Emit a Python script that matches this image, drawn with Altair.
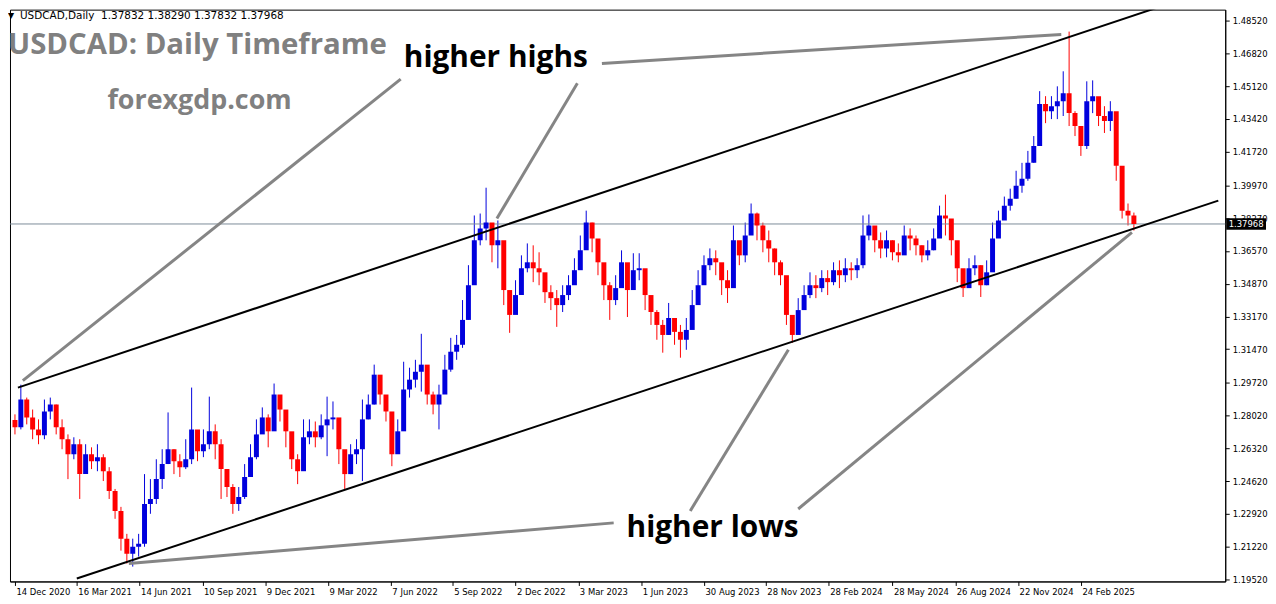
import altair as alt
import pandas as pd
import numpy as np

# ---------------- data ----------------
first_open = 1.2780
closes = [
    1.2742, 1.2886, 1.2793, 1.2731, 1.2700, 1.2824, 1.2860, 1.2742, 1.2680, 1.2602,
    1.2654, 1.2499, 1.2602, 1.2566, 1.2587, 1.2514, 1.2411, 1.2308, 1.2164, 1.2086,
    1.2122, 1.2138, 1.2344, 1.2370, 1.2473, 1.2551, 1.2628, 1.2566, 1.2535, 1.2576,
    1.2731, 1.2618, 1.2654, 1.2721, 1.2654, 1.2525, 1.2432, 1.2344, 1.2380, 1.2484,
    1.2587, 1.2705, 1.2793, 1.2721, 1.2912, 1.2834, 1.2721, 1.2576, 1.2514, 1.2690,
    1.2721, 1.2690, 1.2752, 1.2783, 1.2793, 1.2628, 1.2499, 1.2602, 1.2628, 1.2783,
    1.2860, 1.3015, 1.2912, 1.2824, 1.2602, 1.2721, 1.2938, 1.2989, 1.3030, 1.3067,
    1.2912, 1.2860, 1.2912, 1.3041, 1.3134, 1.3170, 1.3299, 1.3479, 1.3712, 1.3774,
    1.3804, 1.3686, 1.3712, 1.3454, 1.3325, 1.3428, 1.3567, 1.3598, 1.3567, 1.3546,
    1.3443, 1.3412, 1.3376, 1.3428, 1.3479, 1.3557, 1.3660, 1.3804, 1.3722, 1.3598,
    1.3479, 1.3402, 1.3464, 1.3598, 1.3454, 1.3557, 1.3567, 1.3428, 1.3340, 1.3273,
    1.3221, 1.3309, 1.3237, 1.3196, 1.3247, 1.3376, 1.3479, 1.3583, 1.3619, 1.3598,
    1.3505, 1.3464, 1.3712, 1.3634, 1.3737, 1.3851, 1.3789, 1.3712, 1.3670, 1.3598,
    1.3531, 1.3325, 1.3221, 1.3350, 1.3428, 1.3479, 1.3464, 1.3516, 1.3495, 1.3557,
    1.3531, 1.3567, 1.3557, 1.3583, 1.3737, 1.3789, 1.3712, 1.3670, 1.3712, 1.3650,
    1.3634, 1.3737, 1.3722, 1.3686, 1.3634, 1.3660, 1.3722, 1.3841, 1.3825, 1.3712,
    1.3567, 1.3464, 1.3567, 1.3583, 1.3479, 1.3546, 1.3722, 1.3815, 1.3892, 1.3928,
    1.3995, 1.4032, 1.4114, 1.4202, 1.4419, 1.4382, 1.4408, 1.4434, 1.4475, 1.4372,
    1.4305, 1.4202, 1.4434, 1.4460, 1.4357, 1.4331, 1.4382, 1.4099, 1.3866, 1.3841,
    1.37968,
]
highs = [
    1.2809, 1.2963, 1.2896, 1.2834, 1.2783, 1.2886, 1.2896, 1.2860, 1.2783, 1.2705,
    1.2690, 1.2680, 1.2654, 1.2638, 1.2654, 1.2602, 1.2535, 1.2422, 1.2329, 1.2189,
    1.2164, 1.2189, 1.2499, 1.2473, 1.2576, 1.2628, 1.2819, 1.2628, 1.2602, 1.2680,
    1.2948, 1.2705, 1.2731, 1.2901, 1.2757, 1.2680, 1.2525, 1.2447, 1.2432, 1.2551,
    1.2654, 1.2783, 1.2845, 1.2809, 1.2969, 1.2896, 1.2809, 1.2680, 1.2602, 1.2783,
    1.2783, 1.2772, 1.2809, 1.2901, 1.2876, 1.2731, 1.2602, 1.2654, 1.2680, 1.2886,
    1.2912, 1.3067, 1.2989, 1.2886, 1.2731, 1.2783, 1.3082, 1.3051, 1.3092, 1.3227,
    1.3015, 1.2927, 1.2963, 1.3118, 1.3206, 1.3221, 1.3402, 1.3583, 1.3841, 1.3851,
    1.3985, 1.3789, 1.3815, 1.3583, 1.3428, 1.3505, 1.3634, 1.3696, 1.3686, 1.3650,
    1.3516, 1.3479, 1.3454, 1.3479, 1.3531, 1.3619, 1.3737, 1.3866, 1.3804, 1.3712,
    1.3583, 1.3495, 1.3531, 1.3660, 1.3567, 1.3645, 1.3645, 1.3505, 1.3412, 1.3350,
    1.3299, 1.3387, 1.3299, 1.3273, 1.3309, 1.3454, 1.3557, 1.3634, 1.3670, 1.3660,
    1.3583, 1.3557, 1.3789, 1.3701, 1.3804, 1.3903, 1.3856, 1.3804, 1.3763, 1.3670,
    1.3608, 1.3479, 1.3299, 1.3412, 1.3479, 1.3546, 1.3531, 1.3557, 1.3557, 1.3598,
    1.3608, 1.3619, 1.3598, 1.3619, 1.3841, 1.3846, 1.3774, 1.3753, 1.3763, 1.3712,
    1.3696, 1.3789, 1.3774, 1.3737, 1.3686, 1.3712, 1.3774, 1.3892, 1.3949, 1.3789,
    1.3660, 1.3546, 1.3619, 1.3634, 1.3583, 1.3608, 1.3804, 1.3866, 1.3939, 1.3980,
    1.4073, 1.4114, 1.4176, 1.4253, 1.4486, 1.4460, 1.4460, 1.4511, 1.4589, 1.4795,
    1.4382, 1.4305, 1.4537, 1.4542, 1.4444, 1.4408, 1.4434, 1.4290, 1.4021, 1.3903,
    1.3856,
]
lows = [
    1.2705, 1.2731, 1.2757, 1.2680, 1.2654, 1.2680, 1.2783, 1.2705, 1.2628, 1.2473,
    1.2576, 1.2370, 1.2525, 1.2525, 1.2514, 1.2463, 1.2370, 1.2267, 1.2102, 1.2035,
    1.2019, 1.2071, 1.2122, 1.2293, 1.2344, 1.2422, 1.2551, 1.2499, 1.2484, 1.2525,
    1.2551, 1.2566, 1.2587, 1.2628, 1.2576, 1.2370, 1.2380, 1.2293, 1.2308, 1.2370,
    1.2499, 1.2576, 1.2721, 1.2638, 1.2757, 1.2772, 1.2638, 1.2525, 1.2447, 1.2525,
    1.2654, 1.2638, 1.2680, 1.2592, 1.2731, 1.2551, 1.2422, 1.2499, 1.2551, 1.2463,
    1.2783, 1.2860, 1.2860, 1.2772, 1.2540, 1.2654, 1.2860, 1.2896, 1.2948, 1.2927,
    1.2860, 1.2809, 1.2731, 1.2938, 1.3030, 1.3092, 1.3154, 1.3299, 1.3531, 1.3686,
    1.3712, 1.3598, 1.3567, 1.3376, 1.3232, 1.3350, 1.3479, 1.3546, 1.3495, 1.3479,
    1.3387, 1.3350, 1.3263, 1.3340, 1.3402, 1.3495, 1.3583, 1.3722, 1.3650, 1.3531,
    1.3402, 1.3299, 1.3376, 1.3516, 1.3314, 1.3479, 1.3505, 1.3350, 1.3273, 1.3196,
    1.3129, 1.3221, 1.3170, 1.3103, 1.3144, 1.3273, 1.3402, 1.3505, 1.3557, 1.3531,
    1.3428, 1.3387, 1.3598, 1.3583, 1.3598, 1.3763, 1.3712, 1.3650, 1.3598, 1.3531,
    1.3479, 1.3273, 1.3180, 1.3273, 1.3361, 1.3412, 1.3412, 1.3443, 1.3428, 1.3479,
    1.3464, 1.3495, 1.3505, 1.3516, 1.3567, 1.3712, 1.3650, 1.3619, 1.3624, 1.3608,
    1.3598, 1.3670, 1.3660, 1.3634, 1.3598, 1.3608, 1.3660, 1.3763, 1.3737, 1.3634,
    1.3495, 1.3418, 1.3505, 1.3531, 1.3418, 1.3479, 1.3660, 1.3753, 1.3825, 1.3866,
    1.3928, 1.3959, 1.4021, 1.4114, 1.4228, 1.4320, 1.4341, 1.4341, 1.4357, 1.4305,
    1.4253, 1.4150, 1.4186, 1.4372, 1.4305, 1.4269, 1.4279, 1.4021, 1.3825, 1.3789,
    1.3763,
]
first_bar = 2      # trading-day index of the first candle
bar_step = 6       # trading days per candle

tick_days = [2, 65, 129, 193, 257, 321, 385, 448, 512, 576, 640, 704, 767, 831, 896, 960, 1024, 1088]
tick_labels = ["14 Dec 2020", "16 Mar 2021", "14 Jun 2021", "10 Sep 2021", "9 Dec 2021",
               "9 Mar 2022", "7 Jun 2022", "5 Sep 2022", "2 Dec 2022", "3 Mar 2023",
               "1 Jun 2023", "30 Aug 2023", "28 Nov 2023", "28 Feb 2024", "28 May 2024",
               "26 Aug 2024", "22 Nov 2024", "24 Feb 2025"]
price_ticks = [1.48520, 1.46820, 1.45120, 1.43420, 1.41720, 1.39970, 1.38270, 1.36570,
               1.34870, 1.33170, 1.31470, 1.29720, 1.28020, 1.26320, 1.24620, 1.22920,
               1.21220, 1.19520]
last_price = 1.37968

# trend lines (day index, price)
line_kind = ["channel", "channel", "pointer", "pointer", "pointer", "pointer", "pointer", "pointer"]
line_day1 = [5, 65, 10, 493, 600, 118, 690, 800]
line_p1 = [1.2948, 1.1957, 1.2984, 1.3825, 1.4630, 1.2035, 1.2308, 1.2318]
line_day2 = [1175, 1228, 395, 575, 1068, 612, 790, 1140]
line_p2 = [1.4935, 1.3918, 1.4548, 1.4527, 1.4780, 1.2246, 1.3144, 1.3753]

# ---------------- build tables ----------------
n = len(closes)
opens = [first_open] + closes[:-1]
candles = pd.DataFrame({
    "day": [first_bar + bar_step * i for i in range(n)],
    "open": opens, "close": closes, "high": highs, "low": lows,
})
candles["dir"] = np.where(candles["close"] >= candles["open"], "up", "down")

lines = pd.DataFrame({"kind": line_kind, "d1": line_day1, "p1": line_p1,
                      "d2": line_day2, "p2": line_p2})
one = pd.DataFrame({"k": [0]})

W, H = 1222, 575
xscale = alt.Scale(domain=[2, 1230], nice=False, zero=False)
yscale = alt.Scale(domain=[1.1942, 1.4909], nice=False, zero=False)

days_js = "[" + ",".join(str(d) for d in tick_days) + "]"
labels_js = "[" + ",".join("'" + s + "'" for s in tick_labels) + "]"

x_axis = alt.Axis(values=tick_days, labelExpr=f"{labels_js}[indexof({days_js}, datum.value)]",
                  tickCount=40, labelAlign="left", labelOffset=1, labelFlush=False,
                  labelOverlap=False, tickSize=4, labelPadding=2, grid=False, title=None,
                  domainColor="black", tickColor="black", labelColor="black",
                  labelFont="DejaVu Sans", labelFontSize=8.5)
y_axis = alt.Axis(values=price_ticks, format=".5f", orient="right", tickCount=40,
                  labelFlush=False, labelOverlap=False, labelBound=False, tickSize=4,
                  labelPadding=3, grid=False, title=None, domainColor="black",
                  tickColor="black", labelColor="black", labelFont="DejaVu Sans",
                  labelFontSize=8.5)

color = alt.Color("dir:N", scale=alt.Scale(domain=["up", "down"], range=["#0000dd", "#ff0000"]),
                  legend=None)

base = alt.Chart(candles)

wicks = base.mark_rule(strokeWidth=1, clip=True).encode(
    x=alt.X("day:Q", scale=xscale, axis=x_axis),
    y=alt.Y("low:Q", scale=yscale, axis=y_axis),
    y2="high:Q",
    color=color,
)
bodies = base.mark_bar(size=5, clip=True).encode(
    x=alt.X("day:Q", scale=xscale),
    y=alt.Y("open:Q", scale=yscale),
    y2="close:Q",
    color=color,
)
price_line = alt.Chart(one).mark_rule(color="#7d8b99", strokeWidth=1).encode(
    y=alt.datum(last_price)
)

channel = alt.Chart(lines).transform_filter(alt.datum.kind == "channel").mark_rule(
    color="black", strokeWidth=2, clip=True).encode(
    x=alt.X("d1:Q", scale=xscale), x2="d2:Q",
    y=alt.Y("p1:Q", scale=yscale), y2="p2:Q")
pointers = alt.Chart(lines).transform_filter(alt.datum.kind == "pointer").mark_rule(
    color="#858585", strokeWidth=3, clip=True).encode(
    x=alt.X("d1:Q", scale=xscale), x2="d2:Q",
    y=alt.Y("p1:Q", scale=yscale), y2="p2:Q")

def label(text, x, y, size, color, weight="bold", font="Open Sans"):
    return alt.Chart(one).mark_text(
        text=text, align="left", baseline="middle", fontSize=size, font=font,
        fontWeight=weight, color=color
    ).encode(x=alt.value(x), y=alt.value(y))

tri = label("\u25BC", -2, 6, 8, "black", weight="normal", font="DejaVu Sans")
info = label("USDCAD,Daily\u00a0 1.37832 1.38290 1.37832 1.37968", 10, 6, 10.5, "black",
             weight="normal", font="DejaVu Sans")
title = label("USDCAD: Daily Timeframe", -2, 36, 29.5, "#808080")
site = label("forexgdp.com", 98, 92, 27, "#808080")
hh = label("higher highs", 396, 49, 30, "black")
hl = label("higher lows", 620, 521, 30, "black")

tag_box = alt.Chart(one).mark_rect(color="black").encode(
    x=alt.value(W + 1), x2=alt.value(W + 41),
    y=alt.datum(last_price + 0.0030), y2=alt.datum(last_price - 0.0030),
)
tag_text = alt.Chart(one).mark_text(
    text=f"{last_price:.5f}", align="center", baseline="middle", fontSize=8.5,
    font="DejaVu Sans", color="white"
).encode(x=alt.value(W + 21), y=alt.datum(last_price))

chart = alt.layer(
    wicks, price_line, bodies, channel, pointers, tri, info, title, site, hh, hl,
    tag_box, tag_text
).properties(width=W, height=H, padding=0, background="white").configure_view(
    stroke="black", strokeWidth=1
).configure_axis(labelOverlap=False)

chart.save("out.html", embed_options={"renderer": "svg", "actions": False})
